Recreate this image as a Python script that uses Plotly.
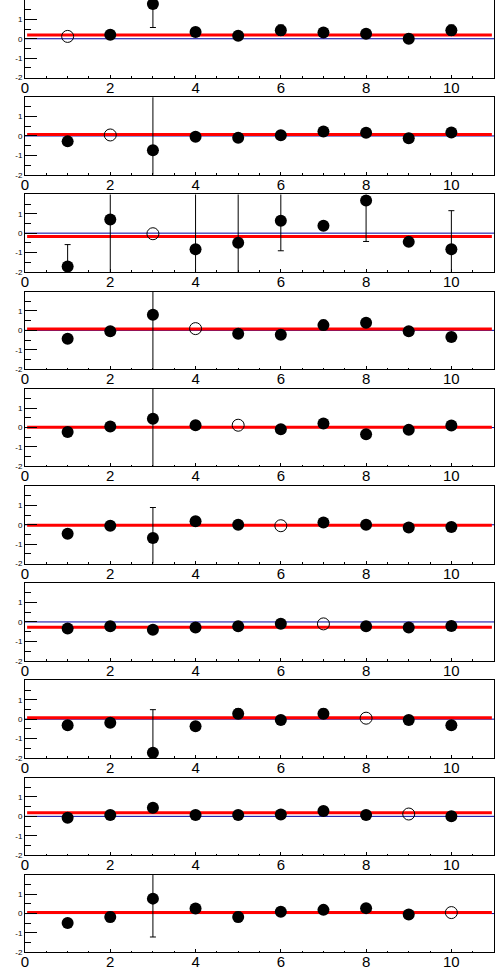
import plotly.graph_objects as go

# ---------------- data ----------------
x_vals = [1, 2, 3, 4, 5, 6, 7, 8, 9, 10]

p1_y = [0.12, 0.21, 1.79, 0.35, 0.16, 0.44, 0.32, 0.26, 0.00, 0.44]
p2_y = [-0.28, 0.05, -0.74, -0.04, -0.09, 0.04, 0.23, 0.16, -0.12, 0.18]
p3_y = [-1.72, 0.71, -0.03, -0.83, -0.50, 0.64, 0.38, 1.69, -0.45, -0.83]
p4_y = [-0.43, -0.05, 0.80, 0.09, -0.18, -0.23, 0.27, 0.39, -0.05, -0.34]
p5_y = [-0.23, 0.05, 0.46, 0.12, 0.12, -0.09, 0.21, -0.34, -0.12, 0.11]
p6_y = [-0.47, -0.05, -0.68, 0.18, 0.00, -0.05, 0.12, 0.00, -0.14, -0.12]
p7_y = [-0.34, -0.22, -0.40, -0.29, -0.22, -0.09, -0.10, -0.22, -0.29, -0.21]
p8_y = [-0.32, -0.19, -1.74, -0.37, 0.28, -0.04, 0.28, 0.05, -0.04, -0.32]
p9_y = [-0.07, 0.07, 0.44, 0.07, 0.07, 0.10, 0.28, 0.07, 0.12, 0.00]
p10_y = [-0.49, -0.18, 0.77, 0.26, -0.18, 0.09, 0.19, 0.28, -0.05, 0.05]

p1_err = [0.2, 0.2, 1.21, 0.2, 0.2, 0.27, 0.2, 0.2, 0.2, 0.27]
p2_err = [0.2, 0.2, 3.0, 0.2, 0.2, 0.2, 0.2, 0.2, 0.2, 0.2]
p3_err = [1.13, 3.5, 0.2, 3.2, 3.0, 1.55, 0.2, 2.12, 0.2, 1.99]
p4_err = [0.2, 0.2, 3.0, 0.2, 0.2, 0.2, 0.25, 0.2, 0.2, 0.2]
p5_err = [0.2, 0.2, 3.0, 0.2, 0.2, 0.2, 0.2, 0.2, 0.2, 0.2]
p6_err = [0.2, 0.2, 1.57, 0.2, 0.2, 0.2, 0.2, 0.2, 0.2, 0.2]
p7_err = [0.2, 0.2, 0.2, 0.2, 0.2, 0.2, 0.2, 0.2, 0.2, 0.2]
p8_err = [0.2, 0.2, 2.23, 0.2, 0.25, 0.2, 0.25, 0.2, 0.2, 0.2]
p9_err = [0.2, 0.2, 0.2, 0.2, 0.2, 0.2, 0.2, 0.2, 0.2, 0.2]
p10_err = [0.2, 0.25, 1.98, 0.2, 0.25, 0.2, 0.2, 0.2, 0.2, 0.2]

fit_values = [0.19, 0.07, -0.17, 0.07, 0.01, -0.02, -0.28, 0.07, 0.18, 0.05]
fit_x = [0.05, 10.95]

x_tick_vals = [0, 2, 4, 6, 8, 10]
x_tick_text = ["0", "2", "4", "6", "8", "10"]
y_tick_vals = [-2, -1, 0, 1, 2]
y_tick_text = ["-2", "-1", "0", "1", ""]

panels_y = [p1_y, p2_y, p3_y, p4_y, p5_y, p6_y, p7_y, p8_y, p9_y, p10_y]
panels_err = [p1_err, p2_err, p3_err, p4_err, p5_err, p6_err, p7_err, p8_err, p9_err, p10_err]

# ---------------- figure ----------------
W, H = 496, 972
panel_h = 97.2
plot_h = 77.5
font = "Liberation Sans, Arial, sans-serif"

fig = go.Figure()
layout = {}
shapes = []

for i in range(10):
    n = "" if i == 0 else str(i + 1)
    xa, ya = "x" + n, "y" + n
    top = 1 - (panel_h * i) / H
    bottom = 1 - (panel_h * i + plot_h) / H

    ys = panels_y[i]
    errs = panels_err[i]
    filled_x = [x for k, x in enumerate(x_vals) if k != i]
    filled_y = [y for k, y in enumerate(ys) if k != i]
    filled_e = [e for k, e in enumerate(errs) if k != i]

    # zero line (blue)
    shapes.append(dict(type="line", xref=xa + " domain", yref=ya,
                       x0=0, x1=1, y0=0, y1=0,
                       line=dict(color="#0000a0", width=1), layer="below"))
    # fit line (red)
    fig.add_trace(go.Scatter(x=fit_x, y=[fit_values[i]] * 2, mode="lines",
                             line=dict(color="#ff0000", width=3),
                             xaxis=xa, yaxis=ya, hoverinfo="skip"))
    # filled points
    fig.add_trace(go.Scatter(x=filled_x, y=filled_y, mode="markers",
                             marker=dict(symbol="circle", size=12, color="black"),
                             error_y=dict(type="data", array=filled_e, color="black",
                                          thickness=1, width=3),
                             xaxis=xa, yaxis=ya))
    # open point (excluded)
    fig.add_trace(go.Scatter(x=[x_vals[i]], y=[ys[i]], mode="markers",
                             marker=dict(symbol="circle-open", size=12, color="black",
                                         line=dict(width=1, color="black")),
                             xaxis=xa, yaxis=ya))

    layout["xaxis" + n] = dict(
        domain=[0, 1], anchor=ya, range=[0, 11],
        showline=True, mirror=True, linecolor="black", linewidth=1,
        showgrid=False, zeroline=False,
        tickmode="array", tickvals=x_tick_vals, ticktext=x_tick_text,
        ticks="inside", ticklen=3, tickcolor="black",
        minor=dict(ticks="inside", dtick=0.5, tick0=0, ticklen=1.5, tickcolor="black"),
        tickfont=dict(family=font, size=15, color="black"),
        ticklabelstandoff=-4,
        automargin=False,
    )
    layout["yaxis" + n] = dict(
        domain=[bottom, top], anchor=xa, range=[-2, 2],
        showline=True, mirror=True, linecolor="black", linewidth=1,
        showgrid=False, zeroline=False,
        tickmode="array", tickvals=y_tick_vals, ticktext=y_tick_text,
        ticks="inside", ticklen=12, tickcolor="black",
        minor=dict(ticks="inside", dtick=0.5, tick0=0, ticklen=6, tickcolor="black"),
        tickfont=dict(family=font, size=8, color="black"),
        automargin=False,
    )

fig.update_layout(
    width=W, height=H,
    margin=dict(l=25, r=2, t=0, b=0),
    showlegend=False,
    plot_bgcolor="white", paper_bgcolor="white",
    shapes=shapes,
    **layout,
)

fig.write_html(
    "out.html",
    config={"displayModeBar": False},
    post_script="document.body.style.margin='0';document.body.style.padding='0';document.body.style.overflow='hidden';",
)
